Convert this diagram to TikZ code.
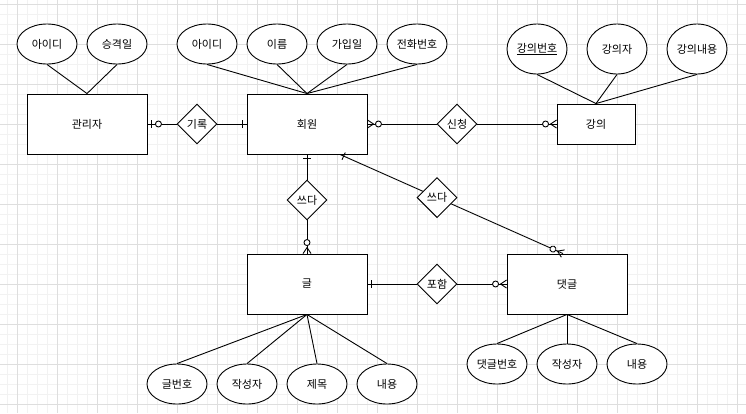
\documentclass[tikz,border=0pt]{standalone}
\usepackage{fontspec}
\setmainfont{Noto Sans CJK KR}
\usetikzlibrary{shapes.geometric,calc}
\tikzset{
  entity/.style={rectangle,draw,fill=white,minimum width=120pt,minimum height=60pt,inner sep=0pt},
  attr/.style={ellipse,draw,fill=white,minimum width=60pt,minimum height=40pt,inner sep=0pt},
  relation/.style={diamond,draw,fill=white,minimum size=40pt,aspect=1,inner sep=0pt},
  gridMinor/.style={draw=black!5,line width=1pt},
  gridMajor/.style={draw=black!13,line width=1pt},
}
% cardinality marks: #1 = point on the entity, #2 = direction of the line
\newcommand{\oneMark}[2]{%
  \begin{scope}[shift={(#1)},rotate=#2]
    \draw (4,-4) -- (4,4);
  \end{scope}}
\newcommand{\zeroOneMark}[2]{%
  \begin{scope}[shift={(#1)},rotate=#2]
    \draw (4,-4) -- (4,4);
    \draw[fill=white] (11,0) circle (3pt);
  \end{scope}}
\newcommand{\zeroManyMark}[2]{%
  \begin{scope}[shift={(#1)},rotate=#2]
    \draw (0,-4) -- (6,0) -- (0,4);
    \draw[fill=white] (11,0) circle (3pt);
  \end{scope}}

\begin{document}
\begin{tikzpicture}[x=1pt,y=-1pt,line width=0.9pt,every node/.style={font=\fontsize{11}{13}\selectfont}]
\useasboundingbox (0,0) rectangle (746,413);

% ===== Grid =====
\foreach \x in {7,17,...,737} {\draw[gridMinor] (\x,0) -- (\x,413);}
\foreach \y in {4,14,...,404} {\draw[gridMinor] (0,\y) -- (746,\y);}
\foreach \x in {17,57,...,737} {\draw[gridMajor] (\x,0) -- (\x,413);}
\foreach \y in {4,44,...,404} {\draw[gridMajor] (0,\y) -- (746,\y);}

% ===== Entities =====
\node[entity] (admin) at (87,124) {관리자};
\node[entity] (member) at (307,124) {회원};
\node[entity,minimum width=78pt,minimum height=40pt] (lecture) at (596,124) {강의};
\node[entity] (post) at (307,284) {글};
\node[entity] (reply) at (567,284) {댓글};

% ===== Attributes =====
\foreach [count=\i] \x/\t in {47/아이디,117/승격일} {
  \node[attr] (adminA\i) at (\x,44) {\t};
  \draw (adminA\i.south) -- (admin.north);
}
\foreach [count=\i] \x/\t in {207/아이디,277/이름,347/가입일,417/전화번호} {
  \node[attr] (memberA\i) at (\x,44) {\t};
  \draw (memberA\i.south) -- (member.north);
}
\foreach [count=\i] \x/\t in {537/\underline{강의번호},617/강의자,697/강의내용} {
  \node[attr,minimum height=50pt] (lectureA\i) at (\x,49) {\t};
  \draw (lectureA\i.south) -- (lecture.north);
}
\foreach [count=\i] \x/\t in {177/글번호,247/작성자,317/제목,387/내용} {
  \node[attr] (postA\i) at (\x,384) {\t};
  \draw (postA\i.north) -- (post.south);
}
\foreach [count=\i] \x/\t in {497/댓글번호,567/작성자,637/내용} {
  \node[attr] (replyA\i) at (\x,364) {\t};
  \draw (replyA\i.north) -- (reply.south);
}

% ===== Relations =====
\node[relation] (record) at (197,124) {기록};
\node[relation] (apply) at (457,124) {신청};
\node[relation] (writePost) at (307,200) {쓰다};
\coordinate (wStart) at ($(member.south)+(33,0)$);
\coordinate (wEnd) at ($(reply.north)+(-4,0)$);
\node[relation] (writeReply) at ($(wStart)!0.435!(wEnd)$) {쓰다};
\node[relation] (contain) at (437,284) {포함};

% ===== Connections =====
\draw (admin.east) -- (record.west);
\draw (record.east) -- (member.west);
\draw (member.east) -- (apply.west);
\draw (apply.east) -- (lecture.west);
\draw (member.south) -- (writePost.north);
\draw (writePost.south) -- (post.north);
\draw (wStart) -- (writeReply) -- (wEnd);
\draw (post.east) -- (contain.west);
\draw (contain.east) -- (reply.west);

% ===== Cardinalities =====
\zeroOneMark{admin.east}{0}
\oneMark{member.west}{180}
\zeroManyMark{member.east}{0}
\zeroManyMark{lecture.west}{180}
\oneMark{member.south}{-90}
\zeroManyMark{post.north}{90}
\oneMark{wStart}{-24.2}
\zeroManyMark{wEnd}{155.8}
\oneMark{post.east}{0}
\zeroManyMark{reply.west}{180}

\end{tikzpicture}
\end{document}
